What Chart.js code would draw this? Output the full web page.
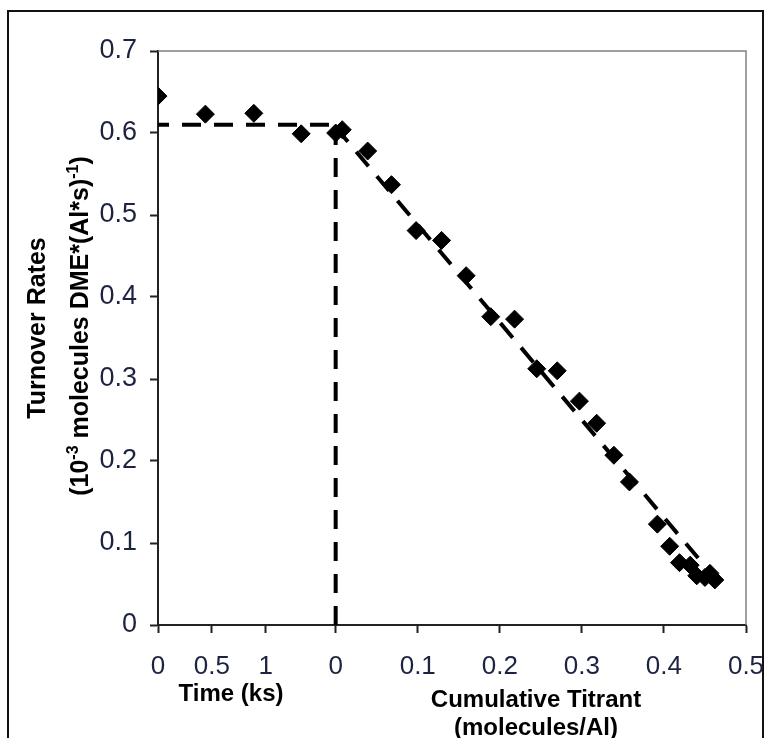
<!DOCTYPE html>
<html><head><meta charset="utf-8">
<script src="https://cdn.jsdelivr.net/npm/chart.js@4/dist/chart.umd.min.js"></script>
<style>html,body{margin:0;padding:0;background:#fff}#wrap{position:relative;width:769px;height:738px}</style>
</head><body><div id="wrap"><canvas id="c"></canvas></div>
<script>
// ---- data ----
const timeKs = [0, 0.44, 0.89, 1.33];
const timeRate = [0.645, 0.623, 0.624, 0.599];
const titrant = [0, 0.008, 0.039, 0.068, 0.098, 0.129, 0.159, 0.189, 0.218, 0.245, 0.270, 0.297, 0.318, 0.339, 0.358, 0.392, 0.407, 0.419, 0.432, 0.440, 0.450, 0.456, 0.462];
const titrantRate = [0.600, 0.604, 0.578, 0.537, 0.481, 0.469, 0.426, 0.376, 0.373, 0.3125, 0.310, 0.273, 0.246, 0.207, 0.1745, 0.123, 0.096, 0.076, 0.073, 0.060, 0.058, 0.063, 0.055];
const fitFlatTime = [0, 1.65];
const fitFlatRate = [0.61, 0.61];
const fitDropTitrant = [0, 0];
const fitDropRate = [0, 0.61];
const fitSlopeTitrant = [0, 0.443];
const fitSlopeRate = [0.607, 0.080];
const timeTicks = [0, 0.5, 1];
const titrantTicks = [0, 0.1, 0.2, 0.3, 0.4, 0.5];
const rateTicks = [0, 0.1, 0.2, 0.3, 0.4, 0.5, 0.6, 0.7];
const TIME_BREAK = 1.65;      // ks position where titrant axis begins
const TITRANT_MIN = -0.2165;  // titrant-units position of time 0
const TITRANT_MAX = 0.5;
const TIME_MAX = TIME_BREAK * (TITRANT_MAX - TITRANT_MIN) / (0 - TITRANT_MIN);

const toXY = (xs, ys) => xs.map((x, i) => ({x, y: ys[i]}));
const tToX = t => TITRANT_MIN + t * (0 - TITRANT_MIN) / TIME_BREAK;
const xToT = v => (v - TITRANT_MIN) * TIME_BREAK / (0 - TITRANT_MIN);

const FONT = "'Liberation Sans', Arial, Helvetica, sans-serif";
const tickColor = '#1c2340';

const decor = {
  id: 'decor',
  beforeDraw(chart) {
    const ctx = chart.ctx;
    ctx.save();
    ctx.fillStyle = '#fff';
    ctx.fillRect(0, 0, chart.width, chart.height);
    ctx.strokeStyle = '#111';
    ctx.lineWidth = 2;
    ctx.strokeRect(8, 11, 755, 800);
    ctx.restore();
  },
  beforeDatasetsDraw(chart) {
    const {ctx, chartArea: a} = chart;
    ctx.save();
    ctx.strokeStyle = '#808080';
    ctx.lineWidth = 1.5;
    ctx.beginPath();
    ctx.moveTo(a.left, a.top);
    ctx.lineTo(a.right, a.top);
    ctx.lineTo(a.right, a.bottom);
    ctx.stroke();
    ctx.restore();
  },
  afterDraw(chart) {
    const ctx = chart.ctx;
    ctx.save();
    ctx.fillStyle = '#000';
    ctx.textAlign = 'center';
    ctx.textBaseline = 'alphabetic';
    ctx.font = 'bold 24px ' + FONT;
    ctx.fillText('Time (ks)', 231, 701);
    ctx.fillText('Cumulative Titrant', 536, 707);
    ctx.fillText('(molecules/Al)', 536, 735);
    // y title (rotated)
    ctx.save();
    ctx.translate(45, 328);
    ctx.rotate(-Math.PI / 2);
    ctx.font = 'bold 25px ' + FONT;
    ctx.fillText('Turnover Rates', 0, 0);
    ctx.restore();
    ctx.save();
    ctx.translate(88, 326);
    ctx.rotate(-Math.PI / 2);
    const parts = [['(10', false], ['-3', true], [' molecules DME*(Al*s)', false], ['-1', true], [')', false]];
    const fMain = 'bold 25px ' + FONT, fSup = 'bold 16px ' + FONT;
    let total = 0;
    parts.forEach(([t, s]) => { ctx.font = s ? fSup : fMain; total += ctx.measureText(t).width; });
    let x = -total / 2;
    ctx.textAlign = 'left';
    parts.forEach(([t, s]) => {
      ctx.font = s ? fSup : fMain;
      ctx.fillText(t, x, s ? -10 : 0);
      x += ctx.measureText(t).width;
    });
    ctx.restore();
    ctx.restore();
  }
};

const marker = {
  showLine: false, pointStyle: 'rectRot', pointRadius: 9, pointHoverRadius: 9,
  backgroundColor: '#000', borderColor: '#000', pointBorderWidth: 1
};
const dashLine = {
  showLine: true, pointRadius: 0, borderColor: '#000', borderWidth: 4, borderDash: [19, 13], fill: false
};

new Chart(document.getElementById('c'), {
  type: 'scatter',
  data: {
    datasets: [
      Object.assign({label: 'time', xAxisID: 'xTime', data: toXY(timeKs, timeRate)}, marker),
      Object.assign({label: 'titrant', xAxisID: 'x', data: toXY(titrant, titrantRate)}, marker),
      Object.assign({label: 'flat fit', xAxisID: 'xTime', data: toXY(fitFlatTime, fitFlatRate), borderDashOffset: 8}, dashLine),
      Object.assign({label: 'drop', xAxisID: 'x', data: toXY(fitDropTitrant, fitDropRate)}, dashLine),
      Object.assign({label: 'slope fit', xAxisID: 'x', data: toXY(fitSlopeTitrant, fitSlopeRate)}, dashLine)
    ]
  },
  options: {
    responsive: true, maintainAspectRatio: false, animation: false,
    layout: {padding: {top: 51, right: 23, bottom: 0, left: 0}},
    plugins: {legend: {display: false}, tooltip: {enabled: false}},
    scales: {
      x: {
        type: 'linear', position: 'bottom', min: TITRANT_MIN, max: TITRANT_MAX,
        afterBuildTicks: s => { s.ticks = timeTicks.map(t => ({value: tToX(t)})).concat(titrantTicks.map(v => ({value: v}))); },
        afterFit: s => { s.height = 113; s.paddingRight = 0; s.paddingLeft = 0; },
        ticks: {
          autoSkip: false, maxRotation: 0, padding: 18, color: tickColor,
          font: {family: FONT, size: 26},
          callback: v => {
            if (v < -1e-9) { const t = Math.round(xToT(v) * 2) / 2; return String(t); }
            const r = Math.round(v * 10) / 10; return r === 0 ? '0' : r.toFixed(1);
          }
        },
        grid: {display: true, drawOnChartArea: false, drawTicks: true, tickLength: 8, tickWidth: 2, tickColor: '#222'},
        border: {display: true, color: '#222', width: 2}
      },
      xTime: {type: 'linear', display: false, min: 0, max: TIME_MAX},
      y: {
        type: 'linear', min: 0, max: 0.7,
        afterBuildTicks: s => { s.ticks = rateTicks.map(v => ({value: v})); },
        afterFit: s => { s.width = 158; s.paddingTop = 0; s.paddingBottom = 0; },
        ticks: {
          padding: 13, color: tickColor, font: {family: FONT, size: 27},
          callback: v => { const r = Math.round(v * 10) / 10; return r === 0 ? '0' : r.toFixed(1); }
        },
        grid: {display: true, drawOnChartArea: false, drawTicks: true, tickLength: 8, tickWidth: 2, tickColor: '#222'},
        border: {display: true, color: '#222', width: 2}
      }
    }
  },
  plugins: [decor]
});
</script>
</body></html>
